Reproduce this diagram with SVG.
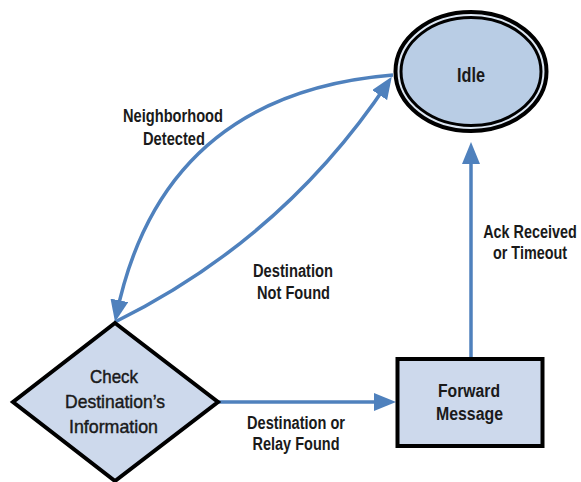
<svg xmlns="http://www.w3.org/2000/svg" width="581" height="482" viewBox="0 0 581 482">
<defs>
<style>
text{font-family:"Liberation Sans Narrow","Liberation Sans",Arial,sans-serif;font-size:18px;font-weight:bold;fill:#1a1a1a;text-anchor:middle}
.edge{fill:none;stroke:#4f81bd;stroke-width:3.5;marker-end:url(#arr)}
.node{stroke:#000;stroke-width:4;stroke-linejoin:miter}
.dt{font-weight:normal;font-size:19px;stroke:#1a1a1a;stroke-width:0.45}
</style>
<marker id="arr" viewBox="0 0 22 18" refX="17" refY="9" markerWidth="22" markerHeight="18" markerUnits="userSpaceOnUse" orient="auto">
<path d="M0,0 L22,9 L0,18 Z" fill="#4f81bd"/>
</marker>
</defs>
<rect width="581" height="482" fill="#fff"/>
<g id="connectors">
<path class="edge" d="M393,75 Q161,94 116,317"/>
<path class="edge" d="M115,322 Q285,238 389,81"/>
<path class="edge" d="M218,402 H391"/>
<path class="edge" d="M471,357 V147"/>
<text x="173" y="122" textLength="100" lengthAdjust="spacingAndGlyphs">Neighborhood</text>
<text x="174" y="145" textLength="62" lengthAdjust="spacingAndGlyphs">Detected</text>
<text x="293" y="277" textLength="80" lengthAdjust="spacingAndGlyphs">Destination</text>
<text x="293.5" y="299" textLength="73" lengthAdjust="spacingAndGlyphs">Not Found</text>
<text x="296" y="429" textLength="98" lengthAdjust="spacingAndGlyphs">Destination or</text>
<text x="296" y="450" textLength="87" lengthAdjust="spacingAndGlyphs">Relay Found</text>
<g transform="translate(530,0) scale(0.8,1)">
<text x="0" y="238">Ack Received</text>
<text x="0" y="259">or Timeout</text>
</g>
</g>
<g id="idle">
<ellipse cx="471" cy="71.5" rx="75.5" ry="59.5" fill="#dde7f3" class="node"/>
<ellipse cx="471" cy="71.5" rx="70" ry="54" fill="#b9cde5" stroke="#000" stroke-width="3"/>
<text x="471" y="82" style="font-size:21px" textLength="28" lengthAdjust="spacingAndGlyphs">Idle</text>
</g>
<g id="check">
<polygon points="115,323 218,402 115,481 13,402" fill="#cdd9ec" class="node" stroke-width="3.5"/>
<text class="dt" x="114" y="383" textLength="48" lengthAdjust="spacingAndGlyphs">Check</text>
<text class="dt" x="115" y="408" textLength="100" lengthAdjust="spacingAndGlyphs">Destination’s</text>
<text class="dt" x="113.5" y="433" textLength="89" lengthAdjust="spacingAndGlyphs">Information</text>
</g>
<g id="forward">
<rect x="397.5" y="359" width="145" height="87" fill="#cdd9ec" class="node"/>
<text x="469" y="397" textLength="62" lengthAdjust="spacingAndGlyphs">Forward</text>
<text x="469.5" y="420" textLength="67" lengthAdjust="spacingAndGlyphs">Message</text>
</g>
</svg>
